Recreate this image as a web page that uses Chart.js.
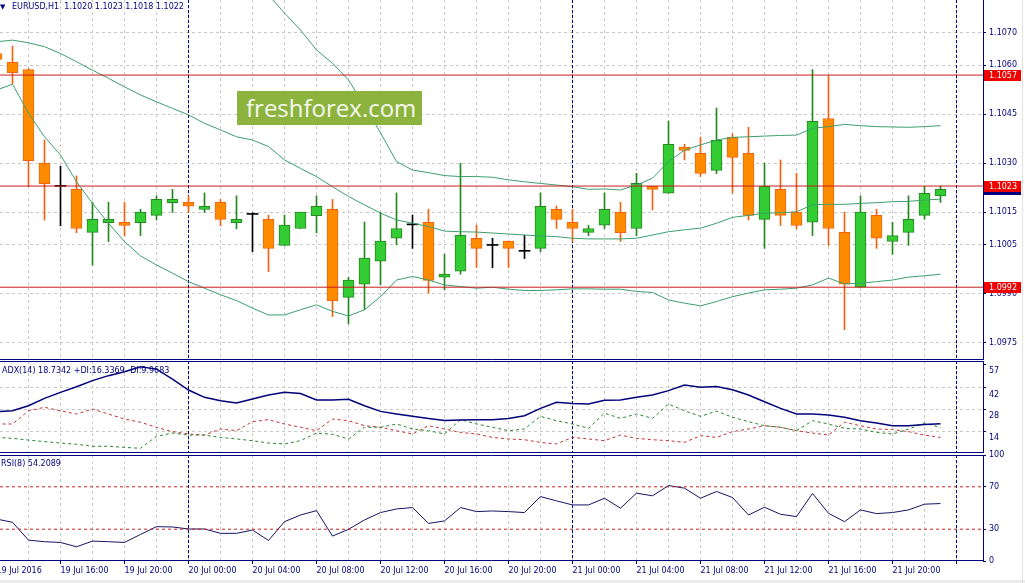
<!DOCTYPE html>
<html>
<head>
<meta charset="utf-8">
<title>EURUSD,H1</title>
<script src="https://cdn.jsdelivr.net/npm/chart.js@4.4.1/dist/chart.umd.min.js"></script>
<style>
  body { margin: 0; background: #fff; }
  #wrap { position: relative; width: 1025px; height: 583px; overflow: hidden; background: #fff;
          font-family: "DejaVu Sans", sans-serif; color: #000080; }
  canvas { position: absolute; left: 0; }
  .txt { position: absolute; font-size: 8px; line-height: 10px; white-space: pre; z-index: 5; }
  #logo { position: absolute; left: 237px; top: 91px; width: 176px; height: 34px; padding-left: 9px;
          background: #8db33f; color: #f6f9ef; font: 24px/34px "Open Sans", sans-serif; z-index: 4; }
</style>
</head>
<body>
<div id="wrap">
  <canvas id="mainChart" width="1025" height="360" style="top:0"></canvas>
  <canvas id="rsiChart" width="1025" height="136" style="top:447px"></canvas>
  <canvas id="adxChart" width="1025" height="92" style="top:361px"></canvas>

  <div class="txt" style="left:0;top:2px;font-size:7px">▼</div>
  <div class="txt" style="left:12px;top:2px">EURUSD,H1  1.1020 1.1023 1.1018 1.1022</div>
  <div class="txt" style="left:2px;top:366px">ADX(14) 18.7342 +DI:16.3369 -DI:9.9683</div>
  <div class="txt" style="left:1px;top:459px">RSI(8) 54.2089</div>
  <div id="logo">freshforex.com</div>
  <div style="position:absolute;left:0;top:580px;width:1025px;height:3px;background:#ebebeb"></div>
  <div style="position:absolute;left:1022px;top:0;width:1px;height:583px;background:#e2e2e2"></div>
</div>

<script>
// H1 bars, 19 Jul 12:00 .. 21 Jul 23:00
const opens = [1.10636, 1.10609, 1.10587, 1.10300, 1.10229, 1.10220, 1.10088, 1.10118, 1.10119, 1.10118,
  1.10140, 1.10179, 1.10180, 1.10158, 1.10180, 1.10118, 1.10143, 1.10128, 1.10048, 1.10100,
  1.10139, 1.10159, 1.09889, 1.09929, 1.10000, 1.10070, 1.10111, 1.10119, 1.09951, 1.09969,
  1.10070, 1.10048, 1.10061, 1.10030, 1.10039, 1.10159, 1.10119, 1.10088, 1.10110, 1.10150,
  1.10100, 1.10229, 1.10208, 1.10349, 1.10330, 1.10278, 1.10379, 1.10330, 1.10128, 1.10220,
  1.10150, 1.10119, 1.10437, 1.10088, 1.09920, 1.10140, 1.10060, 1.10088, 1.10140, 1.10200];
const highs = [1.10650, 1.10659, 1.10590, 1.10371, 1.10291, 1.10261, 1.10180, 1.10180, 1.10180, 1.10159,
  1.10200, 1.10220, 1.10200, 1.10209, 1.10189, 1.10200, 1.10148, 1.10141, 1.10141, 1.10150,
  1.10200, 1.10189, 1.09950, 1.10120, 1.10150, 1.10209, 1.10141, 1.10159, 1.10021, 1.10300,
  1.10110, 1.10070, 1.10061, 1.10079, 1.10209, 1.10169, 1.10159, 1.10110, 1.10209, 1.10180,
  1.10269, 1.10229, 1.10429, 1.10358, 1.10380, 1.10469, 1.10390, 1.10410, 1.10300, 1.10310,
  1.10269, 1.10587, 1.10568, 1.10150, 1.10200, 1.10159, 1.10119, 1.10200, 1.10229, 1.10230];
const lows = [1.10610, 1.10544, 1.10228, 1.10126, 1.10108, 1.10087, 1.09988, 1.10060, 1.10078, 1.10078,
  1.10126, 1.10149, 1.10149, 1.10149, 1.10108, 1.10099, 1.10029, 1.09968, 1.10048, 1.10100,
  1.10087, 1.09830, 1.09808, 1.09851, 1.09927, 1.10050, 1.10039, 1.09902, 1.09912, 1.09960,
  1.09980, 1.09980, 1.09980, 1.10008, 1.10029, 1.10100, 1.10060, 1.10078, 1.10100, 1.10060,
  1.10078, 1.10157, 1.10208, 1.10310, 1.10259, 1.10268, 1.10208, 1.10126, 1.10039, 1.10109,
  1.10099, 1.10078, 1.10048, 1.09790, 1.09920, 1.10039, 1.10021, 1.10048, 1.10128, 1.10180];
const closes = [1.10618, 1.10577, 1.10308, 1.10237, 1.10229, 1.10100, 1.10128, 1.10128, 1.10109, 1.10150,
  1.10189, 1.10189, 1.10168, 1.10168, 1.10128, 1.10128, 1.10143, 1.10039, 1.10110, 1.10150,
  1.10168, 1.09879, 1.09942, 1.10009, 1.10061, 1.10100, 1.10111, 1.09941, 1.09960, 1.10079,
  1.10039, 1.10048, 1.10039, 1.10030, 1.10168, 1.10128, 1.10100, 1.10100, 1.10159, 1.10087,
  1.10238, 1.10220, 1.10358, 1.10339, 1.10269, 1.10370, 1.10318, 1.10140, 1.10229, 1.10140,
  1.10109, 1.10428, 1.10100, 1.09929, 1.10150, 1.10070, 1.10078, 1.10128, 1.10208, 1.10220];

// Bollinger bands
const bbUp = [1.10820, 1.10812, 1.10885, 1.10933, 1.10947, 1.10979, 1.10993, 1.11004, 1.11008, 1.11002,
  1.10988, 1.10973, 1.10959, 1.10927, 1.10907, 1.10883, 1.10860, 1.10815, 1.10760, 1.10708,
  1.10647, 1.10606, 1.10555, 1.10476, 1.10393, 1.10305, 1.10279, 1.10271, 1.10262, 1.10259,
  1.10259, 1.10257, 1.10249, 1.10243, 1.10238, 1.10233, 1.10228, 1.10220, 1.10221, 1.10218,
  1.10233, 1.10254, 1.10305, 1.10340, 1.10356, 1.10371, 1.10379, 1.10381, 1.10383, 1.10385,
  1.10386, 1.10407, 1.10412, 1.10419, 1.10415, 1.10412, 1.10411, 1.10410, 1.10412, 1.10415];
const bbMid = [1.10672, 1.10677, 1.10669, 1.10657, 1.10636, 1.10611, 1.10585, 1.10560, 1.10534, 1.10509,
  1.10488, 1.10468, 1.10448, 1.10422, 1.10402, 1.10381, 1.10371, 1.10351, 1.10310, 1.10284,
  1.10259, 1.10228, 1.10198, 1.10172, 1.10147, 1.10126, 1.10116, 1.10106, 1.10092, 1.10090,
  1.10089, 1.10086, 1.10083, 1.10080, 1.10077, 1.10075, 1.10070, 1.10068, 1.10068, 1.10068,
  1.10070, 1.10080, 1.10090, 1.10096, 1.10101, 1.10116, 1.10134, 1.10140, 1.10147, 1.10148,
  1.10151, 1.10173, 1.10174, 1.10174, 1.10177, 1.10179, 1.10182, 1.10183, 1.10187, 1.10190];
const bbLow = [1.10524, 1.10542, 1.10453, 1.10381, 1.10325, 1.10243, 1.10177, 1.10116, 1.10060, 1.10016,
  1.09988, 1.09963, 1.09937, 1.09917, 1.09897, 1.09879, 1.09856, 1.09835, 1.09835, 1.09851,
  1.09866, 1.09846, 1.09832, 1.09851, 1.09891, 1.09942, 1.09953, 1.09942, 1.09927, 1.09922,
  1.09917, 1.09920, 1.09914, 1.09910, 1.09910, 1.09912, 1.09915, 1.09915, 1.09914, 1.09914,
  1.09907, 1.09904, 1.09881, 1.09871, 1.09863, 1.09876, 1.09891, 1.09902, 1.09912, 1.09914,
  1.09917, 1.09927, 1.09948, 1.09930, 1.09932, 1.09937, 1.09942, 1.09951, 1.09955, 1.09960];

// ADX(14)
const adx = [26.5, 27.1, 30.3, 35.0, 38.9, 42.5, 46.4, 49.6, 52.1, 55.3,
  53.8, 47.4, 40.4, 35.7, 33.5, 32.1, 34.6, 37.2, 38.9, 38.2,
  34.0, 34.0, 34.4, 30.3, 26.7, 25.0, 23.5, 22.2, 20.9, 21.2,
  21.4, 21.4, 22.2, 23.9, 28.6, 32.5, 31.8, 31.4, 33.8, 34.0,
  35.7, 37.2, 40.0, 43.6, 42.1, 42.7, 40.6, 37.2, 32.9, 28.6,
  25.0, 25.0, 24.4, 22.9, 20.7, 19.2, 17.5, 17.5, 18.2, 18.73];
const plusDI = [10.0, 9.4, 8.3, 7.3, 6.4, 5.6, 4.3, 4.3, 3.6, 3.0,
  10.7, 12.8, 11.5, 11.5, 10.0, 9.0, 7.9, 6.4, 5.8, 7.9,
  12.8, 12.0, 9.0, 16.5, 16.5, 18.6, 15.4, 14.3, 12.2, 21.4,
  18.6, 16.5, 14.3, 15.4, 23.5, 20.7, 18.6, 15.8, 25.6, 22.2,
  25.0, 22.2, 31.4, 27.1, 23.5, 26.9, 22.9, 20.1, 17.5, 16.5,
  14.3, 20.7, 18.6, 15.8, 15.4, 13.2, 12.2, 15.4, 19.2, 16.34];
const minusDI = [18.6, 18.6, 27.1, 29.3, 27.1, 25.0, 28.2, 25.0, 21.8, 19.7,
  16.5, 13.7, 12.2, 11.5, 15.4, 14.3, 20.1, 21.4, 18.6, 16.5,
  14.3, 21.8, 20.7, 17.5, 16.5, 14.3, 12.2, 17.5, 15.4, 13.2,
  12.2, 10.0, 9.0, 8.5, 6.8, 5.8, 10.0, 9.0, 7.9, 11.5,
  9.4, 8.5, 7.9, 6.8, 11.1, 10.0, 13.7, 15.4, 17.5, 16.5,
  14.3, 12.8, 11.5, 19.7, 17.5, 15.4, 15.0, 13.7, 11.5, 9.97];

// RSI(8)
const rsi = [39.6, 36.5, 19.7, 18.2, 17.5, 13.4, 18.8, 18.2, 17.5, 25.1,
  32.4, 32.1, 30.2, 30.2, 26.1, 26.1, 29.2, 19.4, 37.1, 43.4,
  47.5, 23.5, 29.9, 38.7, 45.7, 49.1, 50.4, 35.5, 37.8, 50.4,
  46.6, 47.2, 46.6, 45.7, 60.8, 56.7, 52.9, 52.9, 59.2, 49.8,
  64.0, 61.5, 71.2, 68.7, 59.2, 65.6, 59.9, 43.4, 50.7, 44.1,
  41.9, 63.7, 45.0, 37.1, 48.2, 44.7, 45.7, 48.2, 53.6, 54.21];

// axes, levels, labels
const priceTicks = [1.0975, 1.0990, 1.1005, 1.1015, 1.1030, 1.1045, 1.1060, 1.1070];
const adxTicks = [14, 28, 42, 57];
const rsiTicks = [0, 30, 70, 100];
const rsiLevels = [30, 70];
const levels = [1.1057, 1.1023, 1.0992];
const separators = [12, 36, 60];
const timeLabels = ['19 Jul 2016', '19 Jul 16:00', '19 Jul 20:00', '20 Jul 00:00', '20 Jul 04:00',
  '20 Jul 08:00', '20 Jul 12:00', '20 Jul 16:00', '20 Jul 20:00', '21 Jul 00:00',
  '21 Jul 04:00', '21 Jul 08:00', '21 Jul 12:00', '21 Jul 16:00', '21 Jul 20:00'];

const xMin = 0.21875, xMax = 61.65625;
const yMin = 1.09697, yMax = 1.10800;

const NAVY = '#000080';
const GRID = '#c8c8c8';
const BAND = '#3c9f6f';
const LEVEL_RED = '#c81e1e';

Chart.defaults.font.family = 'DejaVu Sans';
Chart.defaults.font.size = 8;
Chart.defaults.color = NAVY;

const bars = opens.map((_, i) => i);
const gridIdx = [];
for (let i = 0; i <= 60; i += 2) gridIdx.push(i);

const isDoji = i => opens[i] === closes[i];
const isBull = i => closes[i] > opens[i];
const lineColor = i => isDoji(i) ? '#000000' : (isBull(i) ? '#22881f' : '#f0640f');
const fillColor = i => isDoji(i) ? '#000000' : (isBull(i) ? '#33cc33' : '#ff8c00');

// frame + period separators
const frame = {
  id: 'frame',
  beforeDatasetsDraw(chart) {
    const { ctx, chartArea: a, scales: { x } } = chart;
    ctx.save();
    ctx.strokeStyle = NAVY;
    ctx.lineWidth = 1;
    ctx.setLineDash([3, 2]);
    separators.forEach(v => {
      const px = Math.floor(x.getPixelForValue(v)) + 0.5;
      ctx.beginPath();
      ctx.moveTo(px, a.top);
      ctx.lineTo(px, a.bottom);
      ctx.stroke();
    });
    ctx.restore();
  },
  afterDraw(chart, args, opts) {
    const { ctx, chartArea: a } = chart;
    ctx.save();
    ctx.strokeStyle = NAVY;
    ctx.lineWidth = 1;
    ctx.beginPath();
    if (opts.top) { ctx.moveTo(a.left, a.top + 0.5); ctx.lineTo(a.right, a.top + 0.5); }
    ctx.moveTo(a.left, a.bottom - 0.5); ctx.lineTo(a.right + 0.5, a.bottom - 0.5);
    ctx.moveTo(a.right + 0.5, a.top); ctx.lineTo(a.right + 0.5, a.bottom);
    ctx.stroke();
    ctx.restore();
  }
};

// price tags on the right axis
const priceTags = {
  id: 'priceTags',
  afterDraw(chart) {
    const { ctx, chartArea: a, scales: { y } } = chart;
    ctx.save();
    ctx.font = '8px "DejaVu Sans"';
    ctx.textBaseline = 'middle';
    const tag = (v, bg) => {
      const py = Math.round(y.getPixelForValue(v));
      ctx.fillStyle = bg;
      ctx.fillRect(a.right + 1, py - 5, 37, 11);
      ctx.fillStyle = '#ffffff';
      ctx.fillText(v.toFixed(4), a.right + 6, py + 0.5);
    };
    tag(closes[closes.length - 1], NAVY);
    levels.forEach(v => tag(v, '#f00000'));
    ctx.restore();
  }
};

function xScale(showLabels) {
  return {
    type: 'linear',
    min: xMin,
    max: xMax,
    offset: false,
    afterBuildTicks: s => { s.ticks = gridIdx.map(v => ({ value: v })); },
    afterFit: s => {
      s.height = showLabels ? 22 : 0;
      s.paddingLeft = 0;
      s.paddingRight = 0;
    },
    grid: {
      offset: false,
      color: GRID,
      drawTicks: showLabels,
      tickLength: 3,
      tickBorderDash: [],
      tickColor: c => (c.tick && c.tick.value % 4 === 0) ? NAVY : 'rgba(0,0,0,0)'
    },
    border: { display: false, dash: [3, 3] },
    ticks: {
      display: showLabels,
      autoSkip: false,
      maxRotation: 0,
      align: 'start',
      padding: 2,
      color: NAVY,
      callback: v => (v % 4 === 0 && timeLabels[v / 4]) ? timeLabels[v / 4] : ''
    }
  };
}

function yScale(min, max, tickValues, extra) {
  return Object.assign({
    type: 'linear',
    position: 'right',
    min: min,
    max: max,
    afterBuildTicks: s => { s.ticks = tickValues.map(v => ({ value: v })); },
    afterFit: s => {
      s.width = 42;
      s.paddingTop = 0;
      s.paddingBottom = 0;
    },
    grid: { color: GRID, tickLength: 3, tickColor: NAVY, tickBorderDash: [] },
    border: { display: false, dash: [3, 3] },
    ticks: { color: NAVY, padding: 3 }
  }, extra);
}

const common = {
  responsive: false,
  animation: false,
  events: [],
  layout: { padding: 0 }
};

const hLine = (v, color, dash) => ({
  type: 'line',
  data: [{ x: xMin, y: v }, { x: xMax, y: v }],
  borderColor: color,
  borderWidth: 1,
  borderDash: dash,
  pointRadius: 0,
  order: 0
});

const band = arr => ({
  type: 'line',
  data: bars.map(i => ({ x: i, y: arr[i] })),
  borderColor: BAND,
  borderWidth: 1,
  pointRadius: 0,
  tension: 0,
  order: 1
});

// main price chart
new Chart(document.getElementById('mainChart'), {
  type: 'bar',
  data: {
    datasets: [
      {
        label: 'wick',
        data: bars.map(i => ({ x: i, y: [lows[i], highs[i]] })),
        backgroundColor: bars.map(lineColor),
        borderWidth: 0,
        barThickness: 1,
        grouped: false,
        order: 3
      },
      {
        label: 'body',
        data: bars.map(i => ({ x: i, y: [opens[i], closes[i]] })),
        backgroundColor: bars.map(fillColor),
        borderColor: bars.map(lineColor),
        borderWidth: bars.map(i => isDoji(i) ? 0 : 1),
        borderSkipped: false,
        barThickness: 11,
        minBarLength: 1,
        grouped: false,
        order: 2
      },
      band(bbUp),
      band(bbMid),
      band(bbLow),
      ...levels.map(v => hLine(v, LEVEL_RED, []))
    ]
  },
  options: Object.assign({}, common, {
    plugins: { legend: { display: false }, tooltip: { enabled: false }, frame: { top: false } },
    scales: {
      x: xScale(false),
      y: yScale(yMin, yMax, priceTicks, {
        ticks: { color: NAVY, padding: 3, callback: v => v.toFixed(4) }
      })
    }
  }),
  plugins: [frame, priceTags]
});

// ADX panel
new Chart(document.getElementById('adxChart'), {
  type: 'line',
  data: {
    datasets: [
      { data: bars.map(i => ({ x: i, y: adx[i] })), borderColor: '#00007a', borderWidth: 1.5, pointRadius: 0, tension: 0 },
      { data: bars.map(i => ({ x: i, y: plusDI[i] })), borderColor: '#22882a', borderWidth: 1, borderDash: [3, 3], pointRadius: 0, tension: 0 },
      { data: bars.map(i => ({ x: i, y: minusDI[i] })), borderColor: '#c83030', borderWidth: 1, borderDash: [3, 3], pointRadius: 0, tension: 0 }
    ]
  },
  options: Object.assign({}, common, {
    plugins: { legend: { display: false }, tooltip: { enabled: false }, frame: { top: true } },
    scales: {
      x: xScale(false),
      y: yScale(0, 59, adxTicks, {
        grid: { color: c => (c.tick && c.tick.value === 57) ? 'rgba(0,0,0,0)' : GRID, tickLength: 3, tickColor: NAVY, tickBorderDash: [] },
        ticks: { color: NAVY, padding: 3, labelOffset: 7 }
      })
    }
  }),
  plugins: [frame]
});

// RSI panel (canvas starts a little higher so the "100" label is not cut)
new Chart(document.getElementById('rsiChart'), {
  type: 'line',
  data: {
    datasets: [
      { data: bars.map(i => ({ x: i, y: rsi[i] })), borderColor: '#141464', borderWidth: 1, pointRadius: 0, tension: 0, order: 1 },
      ...rsiLevels.map(v => hLine(v, LEVEL_RED, [3, 3]))
    ]
  },
  options: Object.assign({}, common, {
    layout: { padding: { top: 8 } },
    plugins: { legend: { display: false }, tooltip: { enabled: false }, frame: { top: true } },
    scales: {
      x: xScale(true),
      y: yScale(0, 100, rsiTicks, {
        grid: { drawOnChartArea: false, tickLength: 3, tickColor: NAVY, tickBorderDash: [] }
      })
    }
  }),
  plugins: [frame]
});
</script>
</body>
</html>
